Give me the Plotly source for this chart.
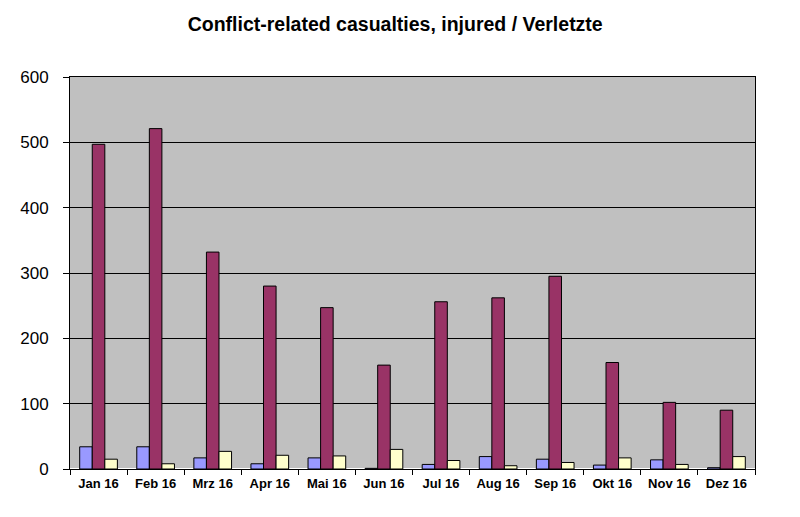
import plotly.graph_objects as go

# Monthly injured, three series (legend not shown in the original)
months = ["Jan 16", "Feb 16", "Mrz 16", "Apr 16", "Mai 16", "Jun 16",
          "Jul 16", "Aug 16", "Sep 16", "Okt 16", "Nov 16", "Dez 16"]
series_blue = [34, 34, 17, 8, 17, 1, 7, 19, 15, 6, 14, 2]
series_red = [497, 521, 332, 280, 247, 159, 256, 262, 295, 163, 102, 90]
series_yellow = [15, 8, 27, 21, 20, 30, 13, 5, 10, 17, 7, 19]
y_ticks = [0, 100, 200, 300, 400, 500, 600]

fig = go.Figure()
for vals, col in [(series_blue, "#9999FF"), (series_red, "#993366"), (series_yellow, "#FFFFCC")]:
    fig.add_trace(go.Bar(x=months, y=vals, marker_color=col,
                         marker_line=dict(color="#000000", width=1)))

# page body has an 8px margin, so margins are offset by that
fig.update_layout(
    width=800, height=517,
    paper_bgcolor="white",
    plot_bgcolor="#C0C0C0",
    barmode="group",
    bargap=0.34,
    bargroupgap=0,
    showlegend=False,
    margin=dict(l=55, r=53, t=69, b=56),
    title=dict(text="<b>Conflict-related casualties, injured / Verletzte</b>",
               x=0.484, xanchor="center", y=0.969, yanchor="middle",
               font=dict(family="Arial, Liberation Sans", size=19.5, color="black")),
    font=dict(family="Arial, Liberation Sans", color="black"),
)
fig.update_xaxes(
    ticks="outside", tickson="boundaries", ticklen=5, tickcolor="black",
    showline=True, linecolor="black", linewidth=1, mirror=True,
    tickfont=dict(size=13),
    tickprefix="<b>", ticksuffix="</b>",
    ticklabelstandoff=2,
)
fig.update_yaxes(
    range=[0, 600], tickvals=y_ticks,
    ticks="outside", ticklen=6, tickcolor="black",
    showgrid=True, gridcolor="#000000", gridwidth=1,
    showline=True, linecolor="black", linewidth=1, mirror=True,
    tickfont=dict(size=17),
    ticklabelstandoff=11,
)

fig.write_html("out.html")
